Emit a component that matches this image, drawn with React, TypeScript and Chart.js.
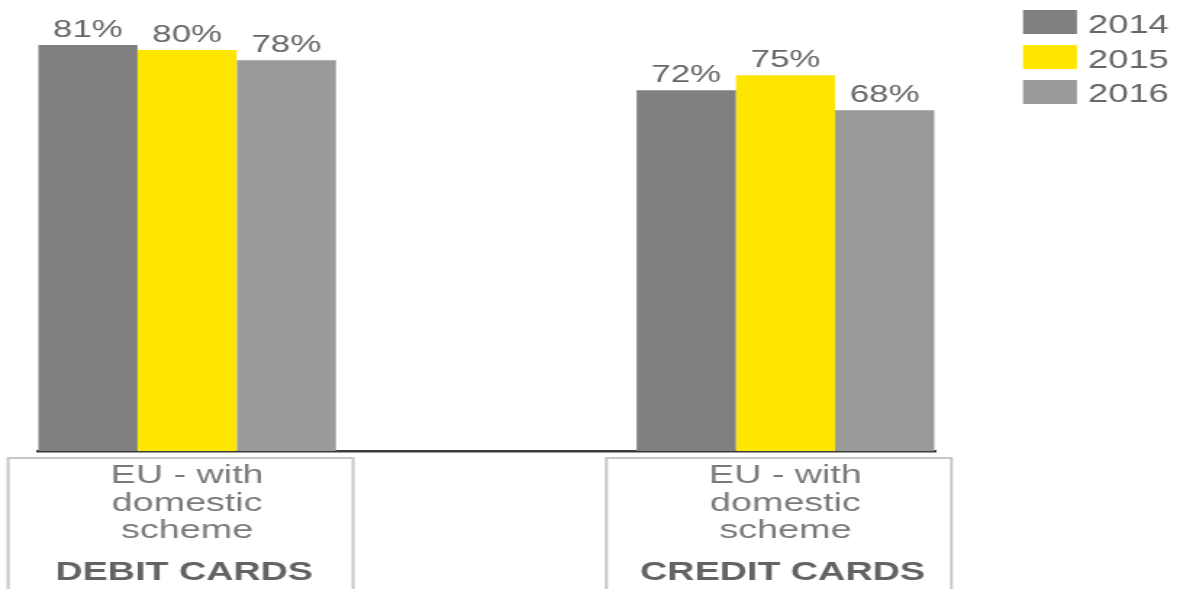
import React, { useEffect, useRef } from "react";
import { Chart, registerables } from "chart.js";

Chart.register(...registerables);

// ---- data ----
const categories = ["DEBIT CARDS", "", "CREDIT CARDS"];
const subLabelLines = ["EU - with", "domestic", "scheme"];
const years = ["2014", "2015", "2016"];
const values2014 = [81, null, 72];
const values2015 = [80, null, 75];
const values2016 = [78, null, 68];
const colors = ["#808080", "#FFE600", "#9a9a9a"];

const CANVAS_W = 814;
const CANVAS_H = 589;
const FONT = '"Liberation Sans", Arial, sans-serif';

const valueLabelPlugin = {
  id: "valueLabels",
  afterDatasetsDraw(chart: any) {
    const ctx = chart.ctx;
    ctx.save();
    ctx.font = `24px ${FONT}`;
    ctx.fillStyle = "#666666";
    ctx.textAlign = "center";
    ctx.textBaseline = "alphabetic";
    chart.data.datasets.forEach((ds: any, di: number) => {
      const meta = chart.getDatasetMeta(di);
      meta.data.forEach((el: any, i: number) => {
        const v = ds.data[i];
        if (v === null || v === undefined) return;
        ctx.fillText(`${v}%`, el.x, el.y - 8.5);
      });
    });
    ctx.restore();
  },
};

const categoryBoxPlugin = {
  id: "categoryBoxes",
  afterDraw(chart: any) {
    const ctx = chart.ctx;
    const xScale = chart.scales.x;
    ctx.save();
    categories.forEach((cat, i) => {
      if (!cat) return;
      const cx = xScale.getPixelForValue(i);
      const left = cx - 123.5;
      const right = cx + 114.5;
      const top = 458;
      ctx.strokeStyle = "#c6c6c6";
      ctx.lineWidth = 2;
      ctx.beginPath();
      ctx.moveTo(left, CANVAS_H + 10);
      ctx.lineTo(left, top);
      ctx.lineTo(right, top);
      ctx.lineTo(right, CANVAS_H + 10);
      ctx.stroke();

      ctx.textAlign = "center";
      ctx.textBaseline = "alphabetic";
      ctx.fillStyle = "#7a7a7a";
      ctx.font = `26px ${FONT}`;
      subLabelLines.forEach((line, li) => {
        ctx.fillText(line, cx, 483 + li * 27.5);
      });
      ctx.fillStyle = "#636363";
      ctx.font = `bold 26px ${FONT}`;
      ctx.fillText(cat, cx - 2, 580);
    });
    ctx.restore();
  },
};

const legendPlugin = {
  id: "customLegend",
  afterDraw(chart: any) {
    const ctx = chart.ctx;
    ctx.save();
    chart.data.datasets.forEach((ds: any, i: number) => {
      ctx.fillStyle = ds.backgroundColor;
      ctx.fillRect(705.7, 10 + i * 35, 37.2, 24);
      ctx.fillStyle = "#666666";
      ctx.font = `25px ${FONT}`;
      ctx.textAlign = "left";
      ctx.textBaseline = "alphabetic";
      ctx.fillText(ds.label, 750.6, 33 + i * 34.5);
    });
    ctx.restore();
  },
};

export default function App() {
  const canvasRef = useRef<HTMLCanvasElement | null>(null);

  useEffect(() => {
    if (!canvasRef.current) return;
    const seriesValues = [values2014, values2015, values2016];
    const chart = new Chart(canvasRef.current, {
      type: "bar",
      data: {
        labels: categories,
        datasets: years.map((y, i) => ({
          label: y,
          data: seriesValues[i],
          backgroundColor: colors[i],
          borderWidth: 0,
          barPercentage: 1,
          categoryPercentage: 0.995,
        })),
      },
      options: {
        responsive: false,
        maintainAspectRatio: false,
        devicePixelRatio: 1,
        animation: false,
        layout: { padding: { left: 25.9, right: 169, top: 0, bottom: 130 } },
        plugins: {
          legend: { display: false },
          tooltip: { enabled: false },
        },
        scales: {
          x: {
            display: true,
            grid: { display: false },
            ticks: { display: false },
            border: { display: true, color: "#3a3a3a", width: 2.5 },
          },
          y: {
            display: false,
            min: 0,
            max: 90,
          },
        },
      },
      plugins: [valueLabelPlugin, categoryBoxPlugin, legendPlugin],
    });
    return () => chart.destroy();
  }, []);

  return (
    <div style={{ position: "absolute", left: 0, top: 0, width: 1180, height: 589, overflow: "hidden", background: "#fff" }}>
      <canvas
        ref={canvasRef}
        width={CANVAS_W}
        height={CANVAS_H}
        style={{ width: "1180px", height: "589px", display: "block" }}
      />
    </div>
  );
}
